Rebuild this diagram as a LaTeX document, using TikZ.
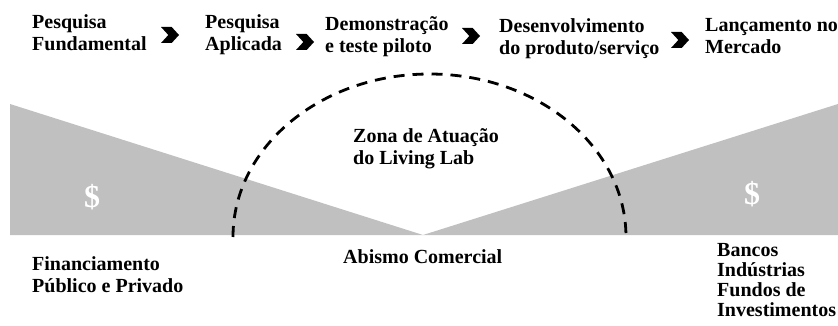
\documentclass[tikz,border=0pt]{standalone}
\usepackage{fontspec}
\setmainfont{Liberation Serif}
\usetikzlibrary{shapes.symbols}
\definecolor{zonegray}{RGB}{192,192,192}
\begin{document}
\begin{tikzpicture}[x=1pt,y=-1pt,
  lbl/.style={anchor=north west,inner sep=0pt,align=left,font=\bfseries\fontsize{20}{22}\selectfont},
  lbltight/.style={lbl,font=\bfseries\fontsize{20}{20}\selectfont},
  chev/.style={shape=signal,signal from=west,signal to=east,fill=black,draw=none,
    minimum width=18pt,minimum height=16pt,inner sep=0pt,signal pointer angle=95},
  dollar/.style={text=white,inner sep=0pt,font=\bfseries\fontsize{32}{32}\selectfont},
  zone/.style={draw=black,line width=2.8pt,dash pattern=on 11pt off 8pt}]
\useasboundingbox (0,0) rectangle (838,326);
% grey wedges
\coordinate (apex) at (423,235);
\coordinate (ltop) at (10,104);
\coordinate (lbot) at (10,235);
\coordinate (rtop) at (838,104);
\coordinate (rbot) at (838,235);
\fill[zonegray] (ltop) -- (apex) -- (lbot) -- cycle;
\fill[zonegray] (rtop) -- (rbot) -- (apex) -- cycle;
% dashed arc
\coordinate (arcL) at (233,237);
\draw[zone] (arcL) arc[start angle=180,end angle=0,x radius=196.5pt,y radius=163pt];
% dollars
\node[dollar] (d1) at (92,197) {\$};
\node[dollar] (d2) at (752,194) {\$};
% top labels
\node[lbl] (t1) at (32,14.5) {Pesquisa\\Fundamental};
\node[chev] (c1) at (170,35) {};
\node[lbl] (t2) at (205,14.5) {Pesquisa\\Aplicada};
\node[chev] (c2) at (305,42) {};
\node[lbl] (t3) at (325,16) {Demonstração\\e teste piloto};
\node[chev] (c3) at (471,36) {};
\node[lbl] (t4) at (499,18) {Desenvolvimento\\do produto/serviço};
\node[chev] (c4) at (680,40) {};
\node[lbl] (t5) at (705,18) {Lançamento no\\Mercado};
% middle
\node[lbl] (z) at (353,128.5) {Zona de Atuação\\do Living Lab};
% bottom labels
\node[lbl] (f) at (32,256.5) {Financiamento\\Público e Privado};
\node[lbl] (a) at (343,249.5) {Abismo Comercial};
\node[lbltight] (b) at (717,243.5) {Bancos\\Indústrias\\Fundos de\\Investimentos};
\end{tikzpicture}
\end{document}
